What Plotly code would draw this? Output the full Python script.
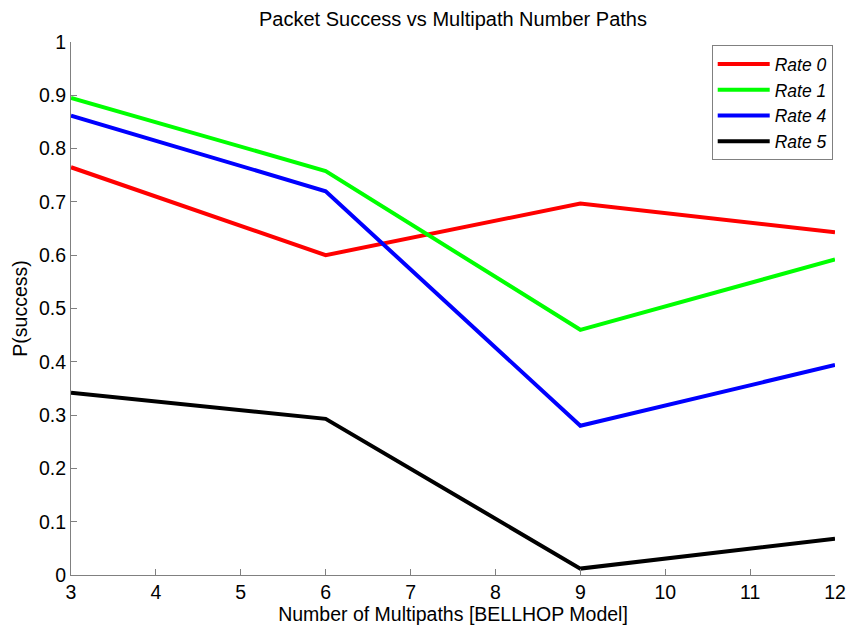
import plotly.graph_objects as go

x_paths = [3, 6, 9, 12]
rate0 = [0.765, 0.600, 0.697, 0.643]
rate1 = [0.895, 0.758, 0.460, 0.592]
rate4 = [0.862, 0.720, 0.280, 0.394]
rate5 = [0.342, 0.293, 0.012, 0.068]
series_names = ["Rate 0", "Rate 1", "Rate 4", "Rate 5"]
series_colors = ["#ff0000", "#00ff00", "#0000ff", "#000000"]

fig = go.Figure()
for name, vals, col in zip(series_names, [rate0, rate1, rate4, rate5], series_colors):
    fig.add_trace(go.Scatter(x=x_paths, y=vals, mode="lines", name=name,
                             line=dict(color=col, width=4)))

font = "Liberation Sans, Arial, sans-serif"
fig.update_layout(
    width=847, height=628,
    margin=dict(l=71, r=12, t=42, b=53),
    paper_bgcolor="white", plot_bgcolor="white",
    title=dict(text="Packet Success vs Multipath Number Paths", x=0.5, xanchor="center",
               xref="paper", yref="container",
               y=1 - 19 / 628, yanchor="middle", font=dict(family=font, size=20, color="black")),
    font=dict(family=font, size=19, color="black"),
    showlegend=True,
    legend=dict(x=0.997, y=0.994, xanchor="right", yanchor="top",
                bgcolor="white", bordercolor="#808080", borderwidth=1,
                font=dict(family=font, size=17.5, style="italic"),
                itemwidth=52, tracegroupgap=0),
    xaxis=dict(range=[3, 12], tickmode="linear", tick0=3, dtick=1,
               ticks="inside", ticklen=6, tickcolor="#808080",
               showline=True, linecolor="#808080", linewidth=1,
               showgrid=False, zeroline=False, automargin=False,
               title=dict(text="Number of Multipaths [BELLHOP Model]", standoff=2,
                          font=dict(size=19.5)),
               tickfont=dict(size=19.5)),
    yaxis=dict(range=[0, 1], tickmode="linear", tick0=0, dtick=0.1,
               ticks="inside", ticklen=6, tickcolor="#808080",
               showline=True, linecolor="#808080", linewidth=1,
               showgrid=False, zeroline=False, automargin=False,
               title=dict(text="P(success)", standoff=6, font=dict(size=19.5)),
               tickfont=dict(size=19.5)),
)
fig.write_html("out.html")
